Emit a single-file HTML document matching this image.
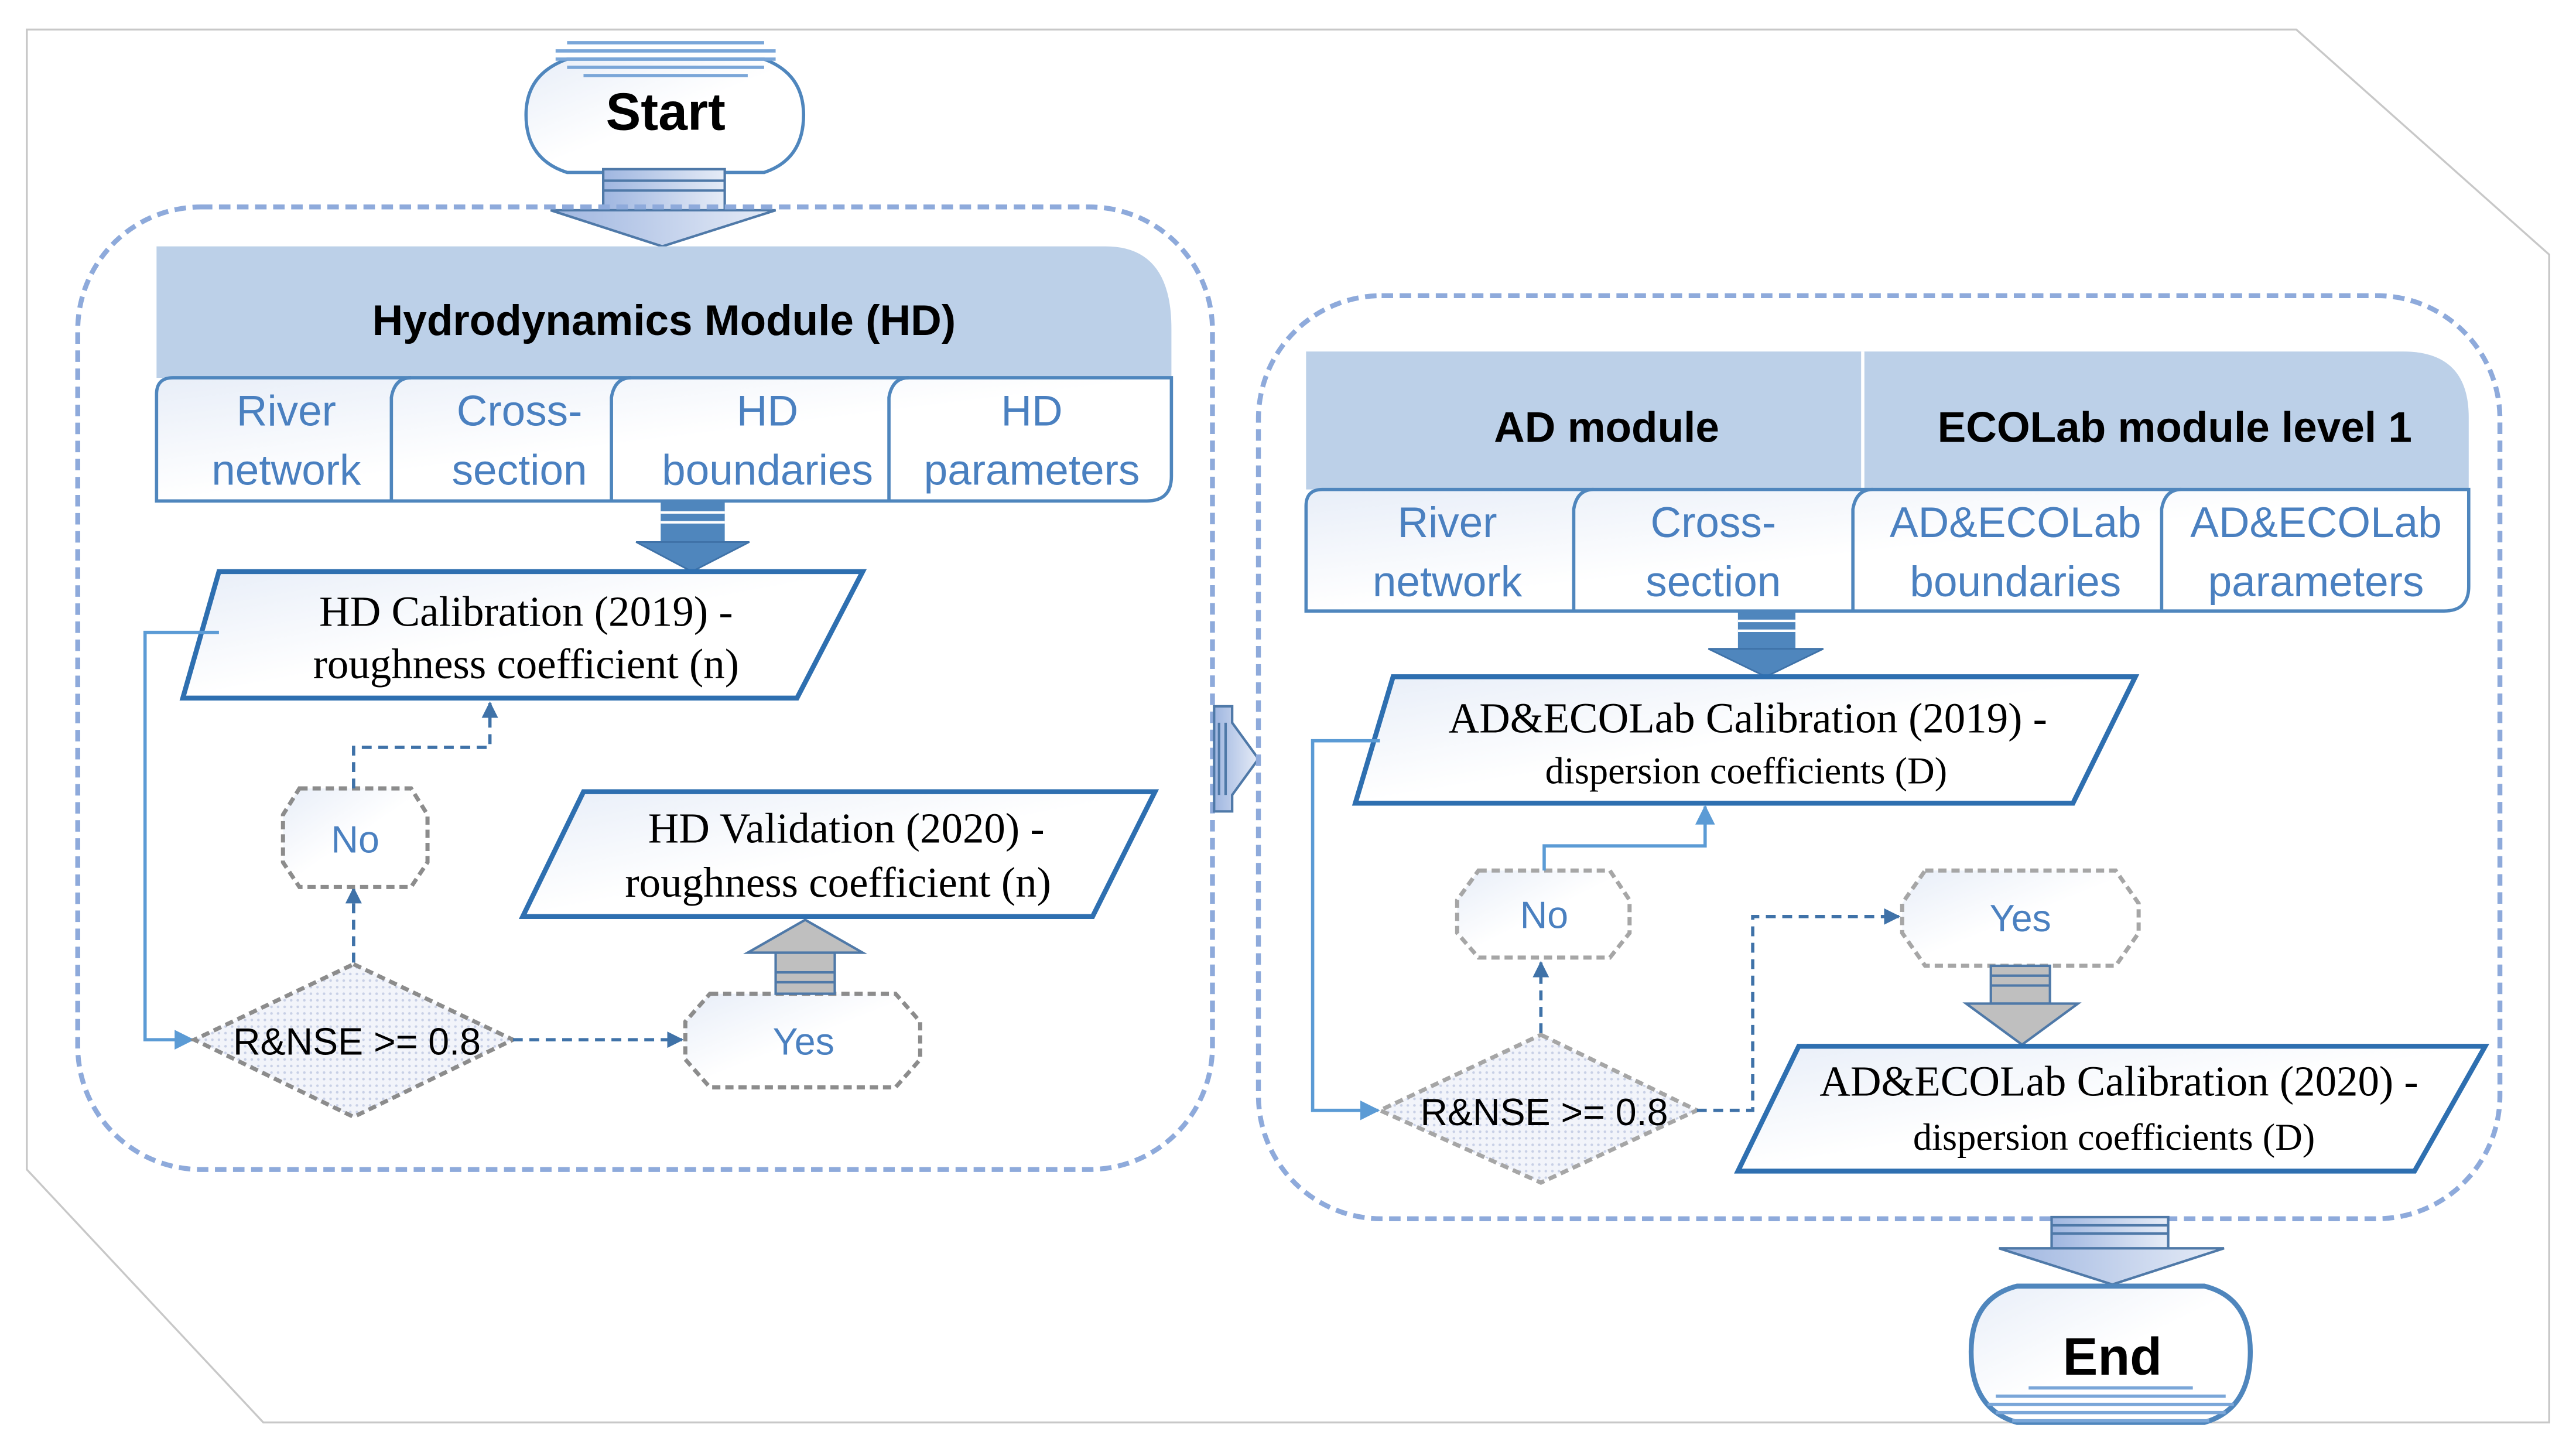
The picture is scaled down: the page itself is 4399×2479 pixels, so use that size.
<!DOCTYPE html>
<html><head><meta charset="utf-8"><style>
html,body{margin:0;padding:0;background:#fff}
svg{display:block}
.s{font-family:"Liberation Sans Narrow","Liberation Sans",sans-serif}
.r{font-family:"Liberation Serif",serif}
</style></head><body>
<svg width="4399" height="2479" viewBox="0 0 1568 884" xmlns="http://www.w3.org/2000/svg">
<defs>
<linearGradient id="g1" x1="0" y1="0" x2="1" y2="1"><stop offset="0" stop-color="#e8eef8"/><stop offset="0.5" stop-color="#fff"/><stop offset="1" stop-color="#fff"/></linearGradient>
<linearGradient id="ga" x1="0" y1="0" x2="1" y2="0"><stop offset="0" stop-color="#9fb6e0"/><stop offset="1" stop-color="#e6ecf7"/></linearGradient>
<pattern id="dots" width="4" height="4" patternUnits="userSpaceOnUse"><rect width="4" height="4" fill="#f2f4fa"/><circle cx="1" cy="1" r="0.8" fill="#c8d0e6"/></pattern>
<marker id="ah" markerWidth="10" markerHeight="10" refX="9" refY="5" orient="auto" markerUnits="userSpaceOnUse"><path d="M0,0 L10,5 L0,10 z" fill="#3f72a8"/></marker>
<marker id="ahl" markerWidth="12" markerHeight="12" refX="11" refY="6" orient="auto" markerUnits="userSpaceOnUse"><path d="M0,0 L12,6 L0,12 z" fill="#5b9bd5"/></marker>
</defs>
<rect width="1568" height="884" fill="#fff"/>
<polygon points="16,18 1398,18 1552,155 1552,866 160,866 16,712" fill="none" stroke="#c8c8c8" stroke-width="1.2"/>

<!-- Start -->
<path d="M345,36 Q320,45 320,70 Q320,97 345,105 L465,105 Q489,97 489,70 Q489,45 465,36 Z" fill="url(#g1)" stroke="#4f86bd" stroke-width="2"/>
<g stroke="#7aa6d8" stroke-width="2"><line x1="345" y1="26" x2="465" y2="26"/><line x1="338" y1="31" x2="472" y2="31"/><line x1="338" y1="36" x2="472" y2="36"/><line x1="345" y1="41" x2="465" y2="41"/><line x1="355" y1="46" x2="455" y2="46"/></g>
<text x="405" y="79" text-anchor="middle" class="s" font-weight="bold" font-size="32">Start</text>
<rect x="367" y="103" width="74" height="26" fill="url(#ga)" stroke="#4f79a8" stroke-width="1.5"/>
<g stroke="#4f79a8" stroke-width="1.5"><line x1="367" y1="110" x2="441" y2="110"/><line x1="367" y1="116" x2="441" y2="116"/></g>
<polygon points="335,128 472,128 403,150" fill="url(#ga)" stroke="#4f79a8" stroke-width="1.5"/>

<!-- left container -->
<rect x="47" y="126" width="691" height="586" rx="75" fill="none" stroke="#8eaadb" stroke-width="3" stroke-dasharray="7,4"/>
<path d="M95,150 L673,150 Q713,150 713,200 L713,230 L95,230 Z" fill="#bcd0e8"/>
<text x="404" y="204" text-anchor="middle" class="s" font-weight="bold" font-size="26">Hydrodynamics Module (HD)</text>
<path d="M95,305 L95,240 Q95,230 105,230 L713,230 L713,290 Q713,305 698,305 Z" fill="url(#g1)" stroke="#4f86bd" stroke-width="2"/>
<g stroke="#4f86bd" stroke-width="2" fill="none"><path d="M238,305 L238,242 Q240,230 250,230"/><path d="M372,305 L372,242 Q374,230 384,230"/><path d="M541,305 L541,242 Q543,230 553,230"/></g>
<g class="s" font-size="26" fill="#4a80c0" text-anchor="middle">
<text x="174" y="259">River</text><text x="174" y="295">network</text>
<text x="316" y="259">Cross-</text><text x="316" y="295">section</text>
<text x="467" y="259">HD</text><text x="467" y="295">boundaries</text>
<text x="628" y="259">HD</text><text x="628" y="295">parameters</text>
</g>
<rect x="402" y="305" width="39" height="26" fill="#4f86bd"/>
<g stroke="#fff" stroke-width="1.5"><line x1="402" y1="312" x2="441" y2="312"/><line x1="402" y1="318" x2="441" y2="318"/></g>
<polygon points="387,330 456,330 421,348" fill="#4f86bd" stroke="#3f72a8"/>

<polygon points="133,348 525,348 485,425 111,425" fill="url(#g1)" stroke="#2e6fb0" stroke-width="3"/>
<text x="320" y="381" text-anchor="middle" class="r" font-size="26">HD Calibration (2019) -</text>
<text x="320" y="413" text-anchor="middle" class="r" font-size="26">roughness coefficient (n)</text>
<polyline points="133,385 88,385 88,633 117,633" fill="none" stroke="#5b9bd5" stroke-width="2" marker-end="url(#ahl)"/>

<polygon points="215,587 312,633 215,680 118,633" fill="url(#dots)" stroke="#8c8c8c" stroke-width="2.5" stroke-dasharray="5,3"/>
<text x="217" y="642" text-anchor="middle" class="s" font-size="23">R&amp;NSE &gt;= 0.8</text>
<line x1="215" y1="586" x2="215" y2="541" stroke="#3f72a8" stroke-width="2" stroke-dasharray="6,4" marker-end="url(#ah)"/>
<polygon points="182,480 250,480 260,496 260,525 250,540 182,540 172,525 172,496" fill="url(#g1)" stroke="#8c8c8c" stroke-width="2.5" stroke-dasharray="5,3"/>
<text x="216" y="519" text-anchor="middle" class="s" font-size="23" fill="#4a80c0">No</text>
<polyline points="215,480 215,455 298,455 298,428" fill="none" stroke="#3f72a8" stroke-width="2" stroke-dasharray="6,4" marker-end="url(#ah)"/>
<line x1="312" y1="633" x2="415" y2="633" stroke="#3f72a8" stroke-width="2" stroke-dasharray="6,4" marker-end="url(#ah)"/>
<polygon points="432,605 545,605 560,622 560,645 545,662 432,662 417,645 417,622" fill="url(#g1)" stroke="#8c8c8c" stroke-width="2.5" stroke-dasharray="5,3"/>
<text x="489" y="642" text-anchor="middle" class="s" font-size="23" fill="#4a80c0">Yes</text>
<rect x="472" y="580" width="36" height="25" fill="#bfbfbf" stroke="#4f79a8" stroke-width="1.5"/>
<g stroke="#4f79a8" stroke-width="1.5"><line x1="472" y1="592" x2="508" y2="592"/><line x1="472" y1="598" x2="508" y2="598"/></g>
<polygon points="455,580 525,580 490,560" fill="#bfbfbf" stroke="#4f79a8" stroke-width="1.5"/>
<polygon points="355,482 703,482 665,558 318,558" fill="url(#g1)" stroke="#2e6fb0" stroke-width="3"/>
<text x="515" y="513" text-anchor="middle" class="r" font-size="26">HD Validation (2020) -</text>
<text x="510" y="546" text-anchor="middle" class="r" font-size="26">roughness coefficient (n)</text>

<!-- middle arrow -->
<polygon points="739,430 750,430 750,440 766,462 750,484 750,494 739,494" fill="url(#ga)" stroke="#4f79a8" stroke-width="1.5"/>
<g stroke="#4f79a8" stroke-width="1.5"><line x1="742" y1="440" x2="742" y2="484"/><line x1="746" y1="440" x2="746" y2="484"/></g>

<!-- right container -->
<rect x="766" y="180" width="756" height="562" rx="75" fill="none" stroke="#8eaadb" stroke-width="3" stroke-dasharray="7,4"/>
<path d="M795,214 L1463,214 Q1503,214 1503,254 L1503,298 L795,298 Z" fill="#bcd0e8"/>
<line x1="1134" y1="214" x2="1134" y2="298" stroke="#fff" stroke-width="2"/>
<text x="978" y="269" text-anchor="middle" class="s" font-weight="bold" font-size="26">AD module</text>
<text x="1324" y="269" text-anchor="middle" class="s" font-weight="bold" font-size="26">ECOLab module level 1</text>
<path d="M795,372 L795,308 Q795,298 805,298 L1503,298 L1503,357 Q1503,372 1488,372 Z" fill="url(#g1)" stroke="#4f86bd" stroke-width="2"/>
<g stroke="#4f86bd" stroke-width="2" fill="none"><path d="M958,372 L958,310 Q960,298 970,298"/><path d="M1128,372 L1128,310 Q1130,298 1140,298"/><path d="M1316,372 L1316,310 Q1318,298 1328,298"/></g>
<g class="s" font-size="26" fill="#4a80c0" text-anchor="middle">
<text x="881" y="327">River</text><text x="881" y="363">network</text>
<text x="1043" y="327">Cross-</text><text x="1043" y="363">section</text>
<text x="1227" y="327">AD&amp;ECOLab</text><text x="1227" y="363">boundaries</text>
<text x="1410" y="327">AD&amp;ECOLab</text><text x="1410" y="363">parameters</text>
</g>
<rect x="1058" y="372" width="35" height="23" fill="#4f86bd"/>
<g stroke="#fff" stroke-width="1.5"><line x1="1058" y1="378" x2="1093" y2="378"/><line x1="1058" y1="384" x2="1093" y2="384"/></g>
<polygon points="1040,395 1110,395 1075,412" fill="#4f86bd" stroke="#3f72a8"/>

<polygon points="848,412 1300,412 1262,489 825,489" fill="url(#g1)" stroke="#2e6fb0" stroke-width="3"/>
<text x="1064" y="446" text-anchor="middle" class="r" font-size="26">AD&amp;ECOLab Calibration (2019) -</text>
<text x="1063" y="477" text-anchor="middle" class="r" font-size="23">dispersion coefficients (D)</text>
<polyline points="840,451 799,451 799,676 839,676" fill="none" stroke="#5b9bd5" stroke-width="2" marker-end="url(#ahl)"/>

<polygon points="938,630 1033,676 938,720 840,676" fill="url(#dots)" stroke="#a6a6a6" stroke-width="2.5" stroke-dasharray="5,3"/>
<text x="940" y="685" text-anchor="middle" class="s" font-size="23">R&amp;NSE &gt;= 0.8</text>
<line x1="938" y1="629" x2="938" y2="586" stroke="#3f72a8" stroke-width="2" stroke-dasharray="6,4" marker-end="url(#ah)"/>
<polygon points="900,530 980,530 992,548 992,568 980,583 900,583 887,568 887,548" fill="url(#g1)" stroke="#a6a6a6" stroke-width="2.5" stroke-dasharray="5,3"/>
<text x="940" y="565" text-anchor="middle" class="s" font-size="23" fill="#4a80c0">No</text>
<polyline points="940,530 940,515 1038,515 1038,491" fill="none" stroke="#5b9bd5" stroke-width="2" marker-end="url(#ahl)"/>
<polyline points="1033,676 1067,676 1067,558 1156,558" fill="none" stroke="#3f72a8" stroke-width="2" stroke-dasharray="6,4" marker-end="url(#ah)"/>
<polygon points="1172,530 1288,530 1302,550 1302,568 1288,588 1172,588 1158,568 1158,550" fill="url(#g1)" stroke="#a6a6a6" stroke-width="2.5" stroke-dasharray="5,3"/>
<text x="1230" y="567" text-anchor="middle" class="s" font-size="23" fill="#4a80c0">Yes</text>
<rect x="1212" y="588" width="36" height="23" fill="#bfbfbf" stroke="#4f79a8" stroke-width="1.5"/>
<g stroke="#4f79a8" stroke-width="1.5"><line x1="1212" y1="594" x2="1248" y2="594"/><line x1="1212" y1="600" x2="1248" y2="600"/></g>
<polygon points="1197,611 1265,611 1231,636" fill="#bfbfbf" stroke="#4f79a8" stroke-width="1.5"/>
<polygon points="1095,637 1513,637 1470,713 1058,713" fill="url(#g1)" stroke="#2e6fb0" stroke-width="3"/>
<text x="1290" y="667" text-anchor="middle" class="r" font-size="26">AD&amp;ECOLab Calibration (2020) -</text>
<text x="1287" y="700" text-anchor="middle" class="r" font-size="23">dispersion coefficients (D)</text>

<!-- End arrow -->
<rect x="1249" y="741" width="71" height="20" fill="url(#ga)" stroke="#4f79a8" stroke-width="1.5"/>
<g stroke="#4f79a8" stroke-width="1.5"><line x1="1249" y1="746" x2="1320" y2="746"/><line x1="1249" y1="751" x2="1320" y2="751"/></g>
<polygon points="1217,760 1354,760 1286,782" fill="url(#ga)" stroke="#4f79a8" stroke-width="1.5"/>
<!-- End -->
<path d="M1228,783 Q1200,790 1200,823 Q1200,858 1228,866 L1342,866 Q1370,858 1370,823 Q1370,790 1342,783 Z" fill="url(#g1)" stroke="#4f86bd" stroke-width="3"/>
<g stroke="#7aa6d8" stroke-width="2"><line x1="1235" y1="845" x2="1335" y2="845"/><line x1="1215" y1="850" x2="1355" y2="850"/><line x1="1210" y1="855" x2="1360" y2="855"/><line x1="1215" y1="860" x2="1355" y2="860"/><line x1="1225" y1="865" x2="1345" y2="865"/></g>
<text x="1286" y="837" text-anchor="middle" class="s" font-weight="bold" font-size="32">End</text>
</svg>
</body></html>
